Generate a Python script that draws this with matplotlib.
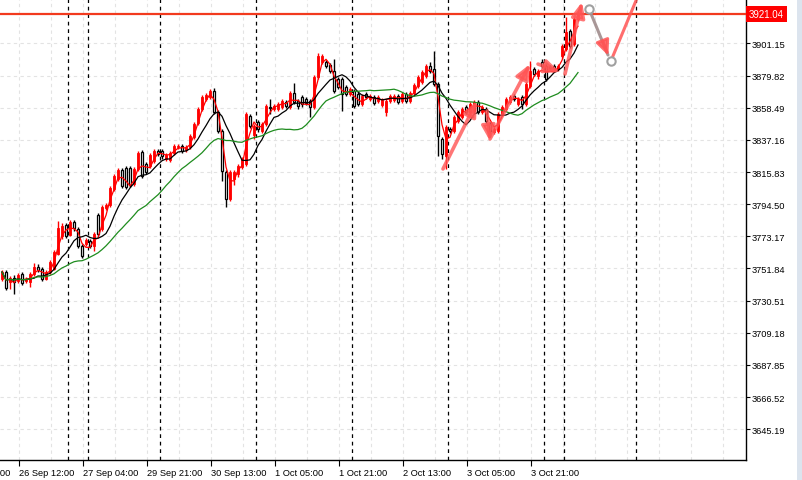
import numpy as np
import pandas as pd
import matplotlib
matplotlib.use('Agg')
import matplotlib.pyplot as plt
from matplotlib.patches import Rectangle

# H1 candles
opens = [3744.9, 3749.5, 3742.9, 3745.5, 3743.5, 3748.2, 3743.5, 3742.9, 3748.2, 3752.8,
         3751.5, 3744.9, 3749.5, 3751.5, 3761.5, 3773.4, 3780.7, 3774.1, 3782.7, 3778.1,
         3766.8, 3768.1, 3770.1, 3766.8, 3787.3, 3778.1, 3792.0, 3794.0, 3804.6, 3811.2,
         3817.2, 3818.5, 3818.5, 3807.9, 3817.9, 3829.2, 3821.2, 3819.9, 3823.2, 3829.8,
         3829.8, 3824.5, 3823.9, 3828.5, 3832.5, 3833.1, 3830.5, 3832.5, 3839.1, 3848.4,
         3857.7, 3864.3, 3865.6, 3869.6, 3855.7, 3843.1, 3815.9, 3798.0, 3811.2, 3814.6,
         3819.2, 3821.2, 3853.0, 3840.4, 3849.1, 3843.1, 3847.7, 3859.0, 3857.7, 3857.7,
         3859.0, 3862.3, 3859.0, 3868.3, 3863.0, 3865.6, 3864.3, 3863.0, 3859.0, 3878.9,
         3888.9, 3888.9, 3886.9, 3882.9, 3877.6, 3877.6, 3872.3, 3867.6, 3869.6, 3867.6,
         3861.0, 3867.6, 3864.3, 3865.6, 3863.0, 3860.3, 3855.7, 3863.0, 3863.7, 3866.3,
         3863.0, 3867.6, 3863.0, 3868.3, 3872.9, 3875.6, 3879.6, 3886.2, 3884.2, 3874.3,
         3837.8, 3826.5, 3844.4, 3843.1, 3849.7, 3852.4, 3859.0, 3855.7, 3856.4, 3862.3,
         3855.7, 3857.7, 3847.7, 3842.4, 3843.1, 3854.4, 3857.7, 3862.3, 3866.3, 3861.0,
         3865.6, 3861.0, 3872.9, 3884.2, 3879.6, 3888.9, 3886.2, 3885.6, 3886.2, 3884.2,
         3892.9, 3897.5, 3909.4, 3900.8, 3917.4]
highs = [3750.8, 3750.8, 3746.9, 3747.5, 3748.9, 3749.5, 3746.2, 3749.5, 3755.5, 3754.8,
         3752.8, 3750.8, 3757.5, 3764.1, 3783.4, 3782.0, 3782.0, 3784.0, 3784.0, 3779.4,
         3768.1, 3772.1, 3771.4, 3776.1, 3788.7, 3794.0, 3795.3, 3806.6, 3814.6, 3818.5,
         3818.5, 3819.9, 3819.9, 3819.2, 3829.8, 3830.5, 3822.5, 3828.5, 3831.1, 3831.1,
         3831.1, 3828.5, 3829.8, 3834.5, 3834.5, 3834.5, 3833.8, 3841.1, 3849.1, 3859.0,
         3867.0, 3868.3, 3871.0, 3871.6, 3857.0, 3844.4, 3817.2, 3817.2, 3817.2, 3821.2,
         3825.8, 3855.7, 3854.4, 3847.7, 3850.4, 3849.1, 3861.0, 3864.3, 3861.0, 3862.3,
         3864.3, 3863.7, 3869.6, 3874.9, 3864.3, 3867.0, 3865.6, 3864.3, 3880.2, 3894.8,
         3894.2, 3890.2, 3888.2, 3890.9, 3878.9, 3878.9, 3873.6, 3872.3, 3871.0, 3869.0,
         3867.6, 3869.0, 3867.6, 3867.0, 3867.0, 3865.0, 3864.3, 3867.6, 3867.6, 3867.6,
         3869.0, 3869.0, 3869.6, 3874.9, 3880.2, 3883.6, 3887.5, 3888.9, 3896.2, 3875.6,
         3839.1, 3847.1, 3845.7, 3853.7, 3857.0, 3859.0, 3860.3, 3862.3, 3863.7, 3863.7,
         3860.3, 3859.0, 3849.1, 3845.7, 3855.7, 3860.3, 3865.6, 3867.0, 3867.6, 3865.6,
         3867.0, 3875.6, 3889.5, 3885.6, 3884.2, 3890.9, 3887.5, 3886.9, 3887.5, 3887.5,
         3900.8, 3918.7, 3910.8, 3918.7, 3922.7]
lows = [3743.5, 3737.6, 3738.2, 3734.9, 3742.2, 3740.9, 3742.2, 3739.6, 3746.9, 3749.5,
        3743.5, 3744.2, 3748.2, 3750.8, 3760.8, 3771.4, 3772.1, 3773.4, 3776.7, 3765.4,
        3758.8, 3766.8, 3765.4, 3763.5, 3773.4, 3776.7, 3790.7, 3792.7, 3803.3, 3809.9,
        3805.3, 3804.6, 3805.9, 3806.6, 3816.5, 3811.9, 3814.6, 3818.5, 3821.9, 3826.5,
        3824.5, 3823.2, 3822.5, 3827.2, 3831.1, 3828.5, 3829.2, 3831.1, 3837.8, 3847.1,
        3856.4, 3863.0, 3864.3, 3854.4, 3841.8, 3809.9, 3792.7, 3796.6, 3807.3, 3812.6,
        3817.9, 3819.9, 3845.1, 3837.8, 3842.4, 3841.8, 3846.4, 3854.4, 3856.4, 3856.4,
        3857.7, 3858.3, 3857.7, 3861.0, 3857.7, 3859.0, 3860.3, 3852.4, 3857.7, 3877.6,
        3887.5, 3884.9, 3881.6, 3868.3, 3871.0, 3856.4, 3866.3, 3866.3, 3858.3, 3859.7,
        3859.7, 3864.3, 3863.0, 3860.3, 3861.7, 3859.0, 3853.0, 3861.7, 3862.3, 3861.0,
        3861.7, 3861.7, 3861.7, 3867.0, 3871.6, 3874.3, 3878.3, 3881.6, 3872.9, 3826.5,
        3824.5, 3817.9, 3841.8, 3841.8, 3848.4, 3851.0, 3854.4, 3854.4, 3855.0, 3854.4,
        3854.4, 3848.4, 3841.8, 3841.1, 3841.8, 3853.0, 3856.4, 3861.0, 3863.0, 3859.7,
        3857.7, 3859.7, 3871.6, 3879.6, 3877.6, 3884.9, 3876.3, 3883.6, 3882.9, 3882.9,
        3891.5, 3896.2, 3898.2, 3899.5, 3916.1]
closes = [3749.5, 3738.9, 3745.5, 3742.9, 3747.5, 3742.2, 3744.9, 3748.2, 3752.8, 3750.8,
          3744.9, 3749.5, 3756.1, 3762.8, 3778.7, 3780.0, 3773.4, 3782.7, 3778.7, 3766.8,
          3760.1, 3770.7, 3766.8, 3774.7, 3774.7, 3792.7, 3794.0, 3805.3, 3813.2, 3817.2,
          3806.6, 3805.9, 3807.3, 3817.9, 3828.5, 3813.2, 3815.9, 3827.2, 3829.8, 3827.8,
          3826.5, 3827.2, 3828.5, 3833.1, 3833.1, 3829.8, 3832.5, 3839.8, 3847.7, 3857.7,
          3865.6, 3867.0, 3869.6, 3855.7, 3843.1, 3816.5, 3798.0, 3815.9, 3815.9, 3819.9,
          3824.5, 3854.4, 3846.4, 3846.4, 3844.4, 3847.7, 3859.7, 3858.3, 3859.7, 3861.0,
          3863.0, 3859.7, 3868.3, 3862.3, 3859.7, 3861.0, 3861.7, 3859.0, 3878.9, 3892.9,
          3892.9, 3886.2, 3882.9, 3869.6, 3872.3, 3867.6, 3867.6, 3871.0, 3859.7, 3861.0,
          3866.3, 3865.6, 3866.3, 3861.7, 3865.6, 3863.7, 3863.0, 3866.3, 3866.3, 3862.3,
          3867.6, 3863.0, 3868.3, 3873.6, 3878.9, 3882.2, 3886.2, 3882.9, 3874.3, 3839.8,
          3827.8, 3845.7, 3843.1, 3852.4, 3855.7, 3857.7, 3855.7, 3861.0, 3862.3, 3855.7,
          3859.0, 3849.7, 3843.1, 3844.4, 3854.4, 3859.0, 3864.3, 3865.6, 3864.3, 3864.3,
          3861.0, 3874.3, 3882.9, 3880.9, 3882.9, 3886.2, 3877.6, 3884.9, 3884.2, 3886.2,
          3899.5, 3908.8, 3899.5, 3917.4, 3921.0]

tick_pos = [-11.75, 4.25, 20.25, 36.25, 52.25, 68.25, 84.25, 100.25, 116.25, 132.25]
tick_labels = ['25 Sep 20:00', '26 Sep 12:00', '27 Sep 04:00', '29 Sep 21:00', '30 Sep 13:00',
               '1 Oct 05:00', '1 Oct 21:00', '2 Oct 13:00', '3 Oct 05:00', '3 Oct 21:00']
separators = [16.5, 21.5, 39.5, 63.5, 87.5, 111.5, 135.5, 140.5, 158.5]
price_ticks = [3645.19, 3666.52, 3687.85, 3709.18, 3730.51, 3751.84, 3773.17,
               3794.50, 3815.83, 3837.16, 3858.49, 3879.82, 3901.15]
last_price = 3921.04

# zigzag arrows: (start bar, start price, end bar, end price)
zz_arrows = [(110.25, 3817.9, 118.75, 3863.0),
             (121.25, 3856.4, 122.0, 3836.4),
             (122.0, 3837.8, 132.0, 3887.5),
             (134.0, 3887.5, 139.5, 3882.2),
             (140.75, 3880.9, 145.0, 3928.7)]
proj_x = [146.75, 152.25]
proj_y = [3924.0, 3889.5]

plt.rcParams['font.family'] = ['Liberation Sans', 'DejaVu Sans']
fs = 6.7

fig = plt.figure(figsize=(8.02, 4.81), dpi=100)
ax = fig.add_axes([0, 20 / 481, 746 / 802, 461 / 481])

x = np.arange(len(closes))
o = np.array(opens)
h = np.array(highs)
l = np.array(lows)
c = np.array(closes)
up = c >= o
dn = ~up

# grid
for p in price_ticks:
    ax.axhline(p, color='#E3E3E3', lw=0.8, ls=(0, (3, 3)), zorder=0)
for g in np.arange(-3.75, 186, 8):
    ax.axvline(g, color='#E3E3E3', lw=0.8, ls=(0, (3, 3)), zorder=0)
for s in separators:
    ax.axvline(s, color='black', lw=0.9, ls=(0, (3, 3)), zorder=1)

# candles
ax.vlines(x[up], l[up], h[up], color='red', lw=1, zorder=2)
ax.vlines(x[dn], l[dn], h[dn], color='black', lw=1, zorder=2)
ax.bar(x[up], np.maximum(c[up] - o[up], 0.6), bottom=o[up], width=0.62,
       color='red', edgecolor='red', lw=0.6, zorder=3)
ax.bar(x[dn], np.maximum(o[dn] - c[dn], 0.6), bottom=c[dn], width=0.62,
       facecolor='white', edgecolor='black', lw=0.9, zorder=3)

# moving averages
cs = pd.Series(closes)
ax.plot(x, cs.rolling(3, min_periods=1).mean(), color='red', lw=0.9, zorder=4)
ax.plot(x, cs.rolling(8, min_periods=1).mean(), color='black', lw=0.9, zorder=4)
ax.plot(x, cs.rolling(21, min_periods=1).mean(), color='#1E8C1E', lw=0.9, zorder=4)

# current price line
ax.axhline(last_price, color='#F23A1E', lw=1.6, zorder=5)

# zigzag arrows
acol = (1.0, 0.33, 0.33)
astyle = '-|>,head_length=0.9,head_width=0.4'
for x0, y0, x1, y1 in zz_arrows:
    ax.annotate('', xy=(x1, y1), xytext=(x0, y0),
                arrowprops=dict(arrowstyle=astyle, color=acol, lw=2.6, alpha=0.8,
                                shrinkA=0, shrinkB=0),
                zorder=6)

# projection
ax.annotate('', xy=(151.5, 3893.5), xytext=(147.4, 3920.0),
            arrowprops=dict(arrowstyle='-', color='#A08C8C', lw=2.2, alpha=0.9,
                            shrinkA=0, shrinkB=0), zorder=6)
ax.annotate('', xy=(151.6, 3893.0), xytext=(150.2, 3902.5),
            arrowprops=dict(arrowstyle=astyle, color=acol, lw=2.2, alpha=0.85,
                            shrinkA=0, shrinkB=0), zorder=6)
ax.plot([152.75, 159.5], [3892.9, 3936.0], color=acol, lw=2.2, alpha=0.85, zorder=6)
ax.plot(proj_x, proj_y, 'o', mfc='white', mec='#A0A0A0', ms=6, mew=1.5, zorder=7)

ax.set_xlim(-0.5, 186)
ax.set_ylim(3624.75, 3930.68)

ax.spines['top'].set_visible(False)
ax.spines['left'].set_visible(False)
ax.spines['right'].set_linewidth(1)
ax.spines['bottom'].set_linewidth(1)

ax.yaxis.tick_right()
ax.set_yticks(price_ticks)
ax.set_yticklabels([f'{p:.2f}' for p in price_ticks])
ax.tick_params(axis='y', direction='out', length=3, pad=1, labelsize=fs)

ax.set_xticks(tick_pos[1:])
ax.set_xticklabels(tick_labels[1:], ha='left')
ax.tick_params(axis='x', direction='out', length=4, pad=1.5, labelsize=fs)
# label of the tick just left of the window, mostly cut off
ax.annotate(tick_labels[0], xy=(tick_pos[0], 0), xycoords=('data', 'axes fraction'),
            xytext=(0.3, -5.5), textcoords='offset points', ha='left', va='top',
            fontsize=fs, annotation_clip=False)

# price tag
fig.text(749 / 802, 1 - 15 / 481, f'{last_price:.2f}', color='white', fontsize=fs + 0.3,
         ha='left', va='center',
         bbox=dict(facecolor='#FF0000', edgecolor='none', pad=2.2))

fig.patches.append(Rectangle((797 / 802, 0), 5 / 802, 1, transform=fig.transFigure,
                             facecolor='#DCE4EE', edgecolor='none'))

fig.savefig('out.png', dpi=100)
